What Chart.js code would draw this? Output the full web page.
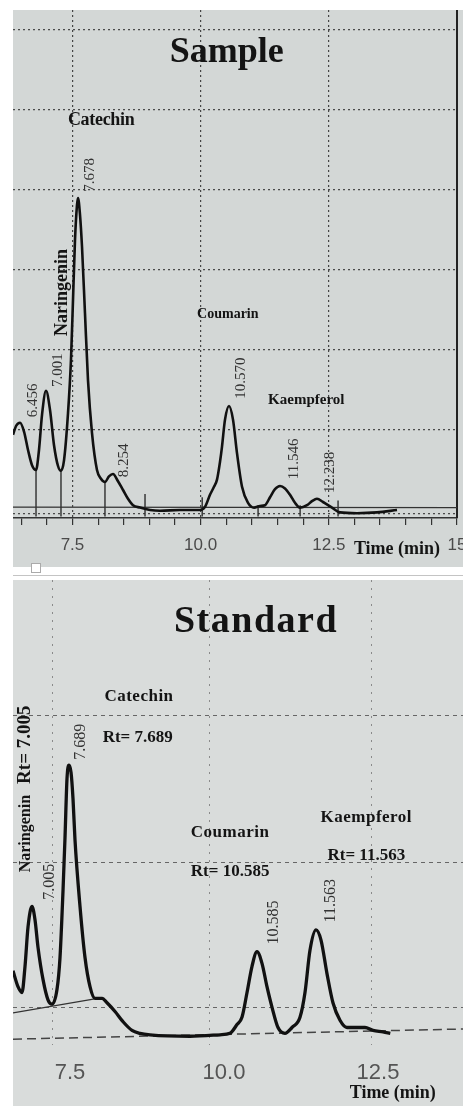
<!DOCTYPE html>
<html lang="en">
<head>
  <meta charset="UTF-8" />
  <title>HPLC Chromatograms - Sample vs Standard</title>
  <script src="https://cdn.jsdelivr.net/npm/chart.js"></script>
  <style>
    html, body { margin: 0; padding: 0; background: #fff; }
    body { width: 463px; height: 1106px; position: relative; overflow: hidden; }
    canvas { position: absolute; display: block; }
    #sampleChart { left: 13px; top: 10px; }
    #standardChart { left: 13px; top: 580px; }
    .divider { position: absolute; left: 13px; top: 575px; width: 450px; height: 1px; background: #c4c4c4; }
    .handle { position: absolute; left: 31px; top: 563px; width: 8px; height: 8px; background: #fff; border: 1px solid #aaa; }
  </style>
</head>
<body>

  <!-- Sample chromatogram -->
  <canvas id="sampleChart" width="450" height="557"></canvas>
  <div class="divider"></div>
  <div class="handle"></div>
  <!-- Standard chromatogram -->
  <canvas id="standardChart" width="450" height="526"></canvas>

  <script>
    // ---- Sample run (top trace) ----
    const sampleTime = [6.340, 6.399, 6.477, 6.555, 6.633, 6.711, 6.789, 6.847, 6.906, 6.984, 7.062, 7.140, 7.218, 7.276,
      7.335, 7.413, 7.471, 7.510, 7.549, 7.588, 7.608, 7.647, 7.686, 7.744, 7.803, 7.881, 7.978, 8.056, 8.134, 8.212,
      8.290, 8.388, 8.486, 8.583, 8.681, 8.818, 9.013, 9.207, 9.597, 9.987, 10.085, 10.182, 10.260, 10.319, 10.377,
      10.416, 10.475, 10.553, 10.631, 10.709, 10.807, 10.924, 11.041, 11.158, 11.255, 11.353, 11.450, 11.548, 11.645,
      11.743, 11.840, 11.938, 12.074, 12.172, 12.269, 12.386, 12.562, 12.718, 13.050, 13.440, 13.830];
    const sampleSignal = [0.94, 1.05, 1.09, 0.98, 0.75, 0.56, 0.50, 0.75, 1.19, 1.49, 1.25, 0.81, 0.55, 0.49,
      0.62, 1.21, 1.88, 2.62, 3.37, 3.81, 3.90, 3.69, 3.29, 2.46, 1.62, 0.96, 0.50, 0.39, 0.35, 0.42,
      0.45, 0.36, 0.25, 0.14, 0.06, 0.03, 0.00, -0.01, 0.00, 0.00, 0.04, 0.19, 0.29, 0.38, 0.60,
      0.79, 1.13, 1.30, 1.13, 0.71, 0.29, 0.09, 0.03, 0.05, 0.06, 0.16, 0.26, 0.30, 0.27,
      0.19, 0.09, 0.03, 0.06, 0.11, 0.14, 0.10, 0.03, -0.03, -0.04, -0.03, 0.00];
    const samplePeakRt = ['6.456', '7.001', '7.678', '8.254', '10.570', '11.546', '12.238'];
    const sampleDropTime = [6.789, 7.276, 8.134, 8.915, 10.03, 11.12, 11.94, 12.68];
    const sampleDropTop = [0.50, 0.49, 0.35, 0.20, 0.16, 0.06, 0.06, 0.12];
    const sampleBaseTime = [6.34, 15];
    const sampleBaseValue = [0.035, 0.03];
    const sampleTickLabels = [7.5, 10.0, 12.5, 15];
    const sampleGridX = [7.5, 10.0, 12.5];
    const sampleGridY = [-0.04, 1, 2, 3, 4, 5, 6];

    // ---- Standard run (bottom trace) ----
    const standardTime = [6.575, 6.656, 6.721, 6.770, 6.819, 6.883, 6.932, 6.981, 7.062, 7.143, 7.208, 7.289, 7.338,
      7.387, 7.419, 7.452, 7.484, 7.517, 7.549, 7.581, 7.663, 7.744, 7.825, 7.906, 8.020, 8.101, 8.231, 8.361, 8.507,
      8.637, 8.799, 9.448, 9.935, 10.097, 10.211, 10.292, 10.374, 10.455, 10.536, 10.617, 10.698, 10.779, 10.877,
      10.990, 11.104, 11.234, 11.315, 11.396, 11.494, 11.575, 11.672, 11.769, 11.883, 11.997, 12.159, 12.289,
      12.419, 12.581, 12.700];
    const standardSignal = [0.44, 0.33, 0.29, 0.47, 0.74, 0.88, 0.79, 0.60, 0.38, 0.24, 0.21, 0.31, 0.53,
      0.99, 1.35, 1.76, 1.85, 1.80, 1.62, 1.34, 0.88, 0.53, 0.33, 0.25, 0.25, 0.22, 0.16, 0.09, 0.03,
      0.01, 0.00, -0.01, 0.00, 0.01, 0.07, 0.12, 0.29, 0.47, 0.57, 0.49, 0.33, 0.19, 0.05,
      0.01, 0.05, 0.12, 0.29, 0.58, 0.72, 0.65, 0.42, 0.22, 0.10, 0.05, 0.05, 0.05,
      0.03, 0.02, 0.01];
    const standardPeakRt = ['7.005', '7.689', '10.585', '11.563'];
    const standardSlopeTime = [6.575, 7.95];
    const standardSlopeValue = [0.15, 0.25];
    const standardBaseTime = [6.575, 13.88];
    const standardBaseValue = [-0.03, 0.04];
    const standardTickLabels = [7.5, 10.0, 12.5];
    const standardGridX = [7.22, 9.77, 12.39];
    const standardGridY = [0.19, 1.18, 2.19];

    const compounds = ['Naringenin', 'Catechin', 'Coumarin', 'Kaempferol'];

    // ---- helpers ----
    const serif = '"Liberation Serif", "Times New Roman", serif';
    const sans = '"Liberation Sans", Arial, sans-serif';
    const pts = (xs, ys) => xs.map((x, i) => ({ x, y: ys[i] }));
    const drops = (xs, tops, bottom) => xs.flatMap((x, i) => [{ x, y: tops[i] }, { x, y: bottom }, { x, y: null }]);

    const background = color => ({
      id: 'bg',
      beforeDraw(chart) {
        const { ctx, width, height } = chart;
        ctx.save();
        ctx.fillStyle = color;
        ctx.fillRect(0, 0, width, height);
        ctx.restore();
      }
    });

    // text placed in data coordinates
    const notes = items => ({
      id: 'notes',
      afterDraw(chart) {
        const { ctx, scales: { x, y } } = chart;
        items.forEach(n => {
          ctx.save();
          ctx.translate(x.getPixelForValue(n.t), y.getPixelForValue(n.v));
          if (n.rot) ctx.rotate(-Math.PI / 2);
          ctx.font = n.font;
          ctx.fillStyle = n.color || '#141414';
          ctx.letterSpacing = n.ls || '0px';
          ctx.textAlign = 'center';
          ctx.textBaseline = 'middle';
          ctx.fillText(n.text, 0, 0);
          ctx.restore();
        });
      }
    });

    const sampleNotes = [
      { text: 'Sample', t: 10.51, v: 5.72, font: `bold 36px ${serif}` },
      { text: compounds[1], t: 8.06, v: 4.87, font: `bold 18px ${serif}`, ls: '-0.3px' },
      { text: compounds[0], t: 7.30, v: 2.72, font: `bold 18px ${serif}`, rot: true },
      { text: compounds[2], t: 10.53, v: 2.44, font: `bold 14px ${serif}` },
      { text: compounds[3], t: 12.06, v: 1.37, font: `bold 15px ${serif}` },
      { text: samplePeakRt[0], t: 6.73, v: 1.37, font: `15px ${serif}`, rot: true, color: '#333' },
      { text: samplePeakRt[1], t: 7.22, v: 1.75, font: `15px ${serif}`, rot: true, color: '#333' },
      { text: samplePeakRt[2], t: 7.84, v: 4.19, font: `15px ${serif}`, rot: true, color: '#333' },
      { text: samplePeakRt[3], t: 8.50, v: 0.62, font: `15px ${serif}`, rot: true, color: '#333' },
      { text: samplePeakRt[4], t: 10.79, v: 1.65, font: `15px ${serif}`, rot: true, color: '#333' },
      { text: samplePeakRt[5], t: 11.82, v: 0.64, font: `15px ${serif}`, rot: true, color: '#333' },
      { text: samplePeakRt[6], t: 12.52, v: 0.47, font: `15px ${serif}`, rot: true, color: '#333' },
      { text: 'Time (min)', t: 13.83, v: -0.49, font: `bold 18px ${serif}` }
    ];

    const standardNotes = [
      { text: 'Standard', t: 10.52, v: 2.83, font: `bold 38px ${serif}`, ls: '1.5px' },
      { text: compounds[1], t: 8.62, v: 2.32, font: `bold 17px ${serif}`, ls: '0.5px' },
      { text: 'Rt= ' + standardPeakRt[1], t: 8.60, v: 2.04, font: `bold 17px ${serif}` },
      { text: 'Rt= ' + standardPeakRt[0], t: 6.77, v: 1.99, font: `bold 19px ${serif}`, rot: true },
      { text: compounds[0], t: 6.79, v: 1.38, font: `bold 16px ${serif}`, rot: true },
      { text: standardPeakRt[0], t: 7.18, v: 1.05, font: `16px ${serif}`, rot: true, color: '#333' },
      { text: standardPeakRt[1], t: 7.68, v: 2.01, font: `16px ${serif}`, rot: true, color: '#333' },
      { text: compounds[2], t: 10.10, v: 1.39, font: `bold 17px ${serif}`, ls: '0.5px' },
      { text: 'Rt= ' + standardPeakRt[2], t: 10.10, v: 1.12, font: `bold 17px ${serif}` },
      { text: compounds[3], t: 12.31, v: 1.49, font: `bold 17px ${serif}`, ls: '0.5px' },
      { text: 'Rt= ' + standardPeakRt[3], t: 12.31, v: 1.23, font: `bold 17px ${serif}` },
      { text: standardPeakRt[2], t: 10.81, v: 0.77, font: `16px ${serif}`, rot: true, color: '#333' },
      { text: standardPeakRt[3], t: 11.74, v: 0.92, font: `16px ${serif}`, rot: true, color: '#333' },
      { text: 'Time (min)', t: 12.74, v: -0.40, font: `bold 18px ${serif}` }
    ];

    const fixedTicks = list => s => { s.ticks = list.map(value => ({ value })); };

    // ---- Sample chart ----
    new Chart(document.getElementById('sampleChart'), {
      type: 'line',
      data: {
        datasets: [
          { data: pts(sampleTime, sampleSignal), borderColor: '#111', borderWidth: 2.6, pointRadius: 0, cubicInterpolationMode: 'monotone' },
          { data: pts(sampleBaseTime, sampleBaseValue), borderColor: '#333', borderWidth: 1.2, pointRadius: 0 },
          { data: drops(sampleDropTime, sampleDropTop, -0.08), borderColor: '#222', borderWidth: 1.3, pointRadius: 0, spanGaps: false }
        ]
      },
      options: {
        responsive: false,
        animation: false,
        devicePixelRatio: 1,
        layout: { padding: { left: 0, right: 6, top: 0, bottom: 0 } },
        plugins: { legend: { display: false }, tooltip: { enabled: false } },
        scales: {
          x: {
            type: 'linear', min: 6.34, max: 15,
            afterFit: s => { s.height = 49; s.paddingLeft = 0; s.paddingRight = 0; },
            ticks: {
              stepSize: 0.5, includeBounds: false, autoSkip: false, maxRotation: 0, padding: 10,
              color: '#4a4a4a', font: { family: sans, size: 17 },
              callback: v => sampleTickLabels.includes(v) ? (v === 15 ? '15' : v.toFixed(1)) : ''
            },
            grid: {
              color: c => (c.tick && sampleGridX.includes(c.tick.value)) ? '#444' : 'rgba(0,0,0,0)',
              lineWidth: 1.2, tickColor: '#333', tickLength: 7, tickWidth: 1.2
            },
            border: { display: true, color: '#333', width: 1.5, dash: [2, 3] }
          },
          y: {
            position: 'right', min: -0.1, max: 6.25,
            afterBuildTicks: fixedTicks(sampleGridY),
            afterFit: s => { s.width = 0; },
            ticks: { display: false },
            grid: { color: '#4a4a4a', lineWidth: 1.2, drawTicks: false },
            border: { display: true, color: '#222', width: 2, dash: [2, 3] }
          }
        }
      },
      plugins: [background('#d3d7d6'), notes(sampleNotes)]
    });

    // ---- Standard chart ----
    new Chart(document.getElementById('standardChart'), {
      type: 'line',
      data: {
        datasets: [
          { data: pts(standardTime, standardSignal), borderColor: '#111', borderWidth: 3.3, pointRadius: 0, cubicInterpolationMode: 'monotone' },
          { data: pts(standardSlopeTime, standardSlopeValue), borderColor: '#333', borderWidth: 1.2, pointRadius: 0 },
          { data: pts(standardBaseTime, standardBaseValue), borderColor: '#444', borderWidth: 1.5, borderDash: [9, 5], pointRadius: 0 }
        ]
      },
      options: {
        responsive: false,
        animation: false,
        devicePixelRatio: 1,
        layout: { padding: 0 },
        plugins: { legend: { display: false }, tooltip: { enabled: false } },
        scales: {
          x: {
            type: 'linear', min: 6.575, max: 13.88,
            afterBuildTicks: fixedTicks(standardTickLabels),
            afterFit: s => { s.height = 61; s.paddingLeft = 0; s.paddingRight = 0; },
            ticks: { maxRotation: 0, autoSkip: false, padding: 7, color: '#555', font: { family: sans, size: 22 }, callback: v => v.toFixed(1) },
            grid: { display: false },
            border: { display: false }
          },
          xg: {
            type: 'linear', position: 'bottom', min: 6.575, max: 13.88,
            afterBuildTicks: fixedTicks(standardGridX),
            afterFit: s => { s.height = 0; },
            ticks: { display: false },
            grid: { color: '#8a8a8a', drawTicks: false },
            border: { display: false, dash: [2, 6] }
          },
          y: {
            position: 'left', min: -0.07, max: 3.12,
            afterBuildTicks: fixedTicks(standardGridY),
            afterFit: s => { s.width = 0; },
            ticks: { display: false },
            grid: { color: '#666', drawTicks: false },
            border: { display: false, dash: [4, 4] }
          }
        }
      },
      plugins: [background('#d9dcdb'), notes(standardNotes)]
    });
  </script>
</body>
</html>
